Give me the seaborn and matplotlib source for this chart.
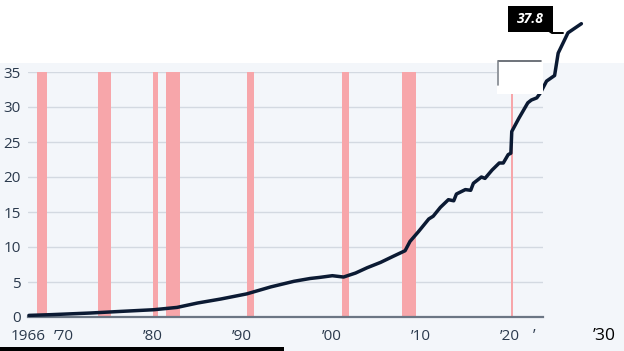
import matplotlib
matplotlib.use("Agg")
import matplotlib.pyplot as plt
import seaborn as sns
import pandas as pd
from matplotlib.patches import Rectangle
from matplotlib.lines import Line2D

years = [1966.1, 1968.5, 1973.0, 1976.4, 1980.1, 1982.7, 1985.0, 1987.6, 1990.5,
         1993.2, 1995.8, 1997.6, 1998.7, 2000.1, 2001.35, 2002.7, 2004.0, 2005.5,
         2006.9, 2008.25, 2008.8, 2009.75, 2010.9, 2011.4, 2012.2, 2013.1, 2013.7,
         2014.0, 2015.0, 2015.6, 2015.9, 2016.8, 2017.2, 2018.0, 2018.8, 2019.25,
         2019.8, 2020.1, 2020.2, 2021.0, 2022.0, 2022.4, 2023.0, 2023.4, 2024.1,
         2025.0, 2025.4, 2026.5, 2028.0]
values = [0.23, 0.33, 0.57, 0.8, 1.04, 1.37, 2.0, 2.57, 3.3,
          4.3, 5.1, 5.5, 5.66, 5.9, 5.71, 6.28, 7.04, 7.8,
          8.66, 9.47, 10.8, 12.2, 14.0, 14.4, 15.66, 16.76, 16.6,
          17.57, 18.2, 18.1, 19.1, 20.0, 19.8, 21.0, 22.0, 22.0,
          23.2, 23.4, 26.5, 28.4, 30.6, 31.0, 31.3, 32.0, 33.7,
          34.5, 37.7, 40.6, 41.9]
recession_start = [1967.0, 1973.8, 1980.0, 1981.5, 1990.5, 2001.2, 2007.9, 2020.1]
recession_end = [1968.1, 1975.3, 1980.6, 1983.0, 1991.3, 2002.0, 2009.5, 2020.35]
tick_years = [1966, 1970, 1980, 1990, 2000, 2010, 2020]
tick_labels = ["1966", "\u201970", "\u201980", "\u201990", "\u201900", "\u201910", "\u201920"]
y_ticks = [0, 5, 10, 15, 20, 25, 30, 35]
last_label = "37.8"

W, H = 624, 351
sns.set_theme(style="white")
plt.rcParams["font.family"] = ["Open Sans", "DejaVu Sans"]

fig = plt.figure(figsize=(W / 100, H / 100), dpi=100)
fig.patch.set_facecolor("#f3f6fa")

def px_rect(x, y, w, h, **kw):
    fig.add_artist(Rectangle((x / W, 1 - (y + h) / H), w / W, h / H,
                             transform=fig.transFigure, **kw))

def px_line(xs, ys, **kw):
    fig.add_artist(Line2D([x / W for x in xs], [1 - y / H for y in ys],
                          transform=fig.transFigure, **kw))

# white top band
px_rect(0, 0, W, 63, facecolor="white", edgecolor="none", zorder=0)

ax = fig.add_axes([28 / W, 34 / H, 515 / W, 245 / H])
ax.set_facecolor("none")
ax.set_xlim(1966, 2023.7)
ax.set_ylim(0, 35)

for s, e in zip(recession_start, recession_end):
    ax.axvspan(s, e, color="#f7a6aa", alpha=1, lw=0, zorder=1)

ax.set_yticks(y_ticks)
ax.yaxis.grid(True, color="#d3d9e1", lw=1)
ax.set_axisbelow(True)
for sp in ["top", "right", "left"]:
    ax.spines[sp].set_visible(False)
ax.spines["bottom"].set_color("#6b7684")
ax.spines["bottom"].set_linewidth(1.6)
ax.spines["bottom"].set_zorder(4)

ax.set_xticks(tick_years)
ax.set_xticklabels(tick_labels)
ax.tick_params(axis="both", length=0, labelsize=11, labelcolor="#2b3a4d")
ax.tick_params(axis="x", pad=9)
ax.tick_params(axis="y", pad=5)

df = pd.DataFrame({"year": years, "value": values})
sns.lineplot(data=df, x="year", y="value", ax=ax, color="#0b1a33", lw=2.5,
             zorder=5, clip_on=False)
ax.set_xlabel("")
ax.set_ylabel("")

ax.text(2030.6, -1.6, "\u201930", ha="center", va="top", fontsize=12.5,
        color="black", clip_on=False)
ax.text(2022.7, -1.6, "\u2019", ha="center", va="top", fontsize=11,
        color="#2b3a4d", clip_on=False)

# white box with grey border near top right
px_rect(497, 61, 46, 33, facecolor="white", edgecolor="none", zorder=6)
px_line([498, 541], [61, 61], color="#555b63", lw=1.2, zorder=7)
px_line([498, 498], [62, 85], color="#80868e", lw=1.2, zorder=7)

# value label box
px_rect(508, 6, 45, 26, facecolor="black", edgecolor="none", zorder=8)
fig.text(530.5 / W, 1 - 19 / H, last_label, ha="center", va="center",
         color="white", fontsize=10, fontweight="bold", style="italic", zorder=9)
px_line([549, 552, 563], [31, 33, 33], color="black", lw=1.4, zorder=8)

# bottom black strip
px_rect(0, 347, 284, 4, facecolor="black", edgecolor="none", zorder=8)

fig.savefig("out.png", dpi=100, facecolor=fig.get_facecolor())
